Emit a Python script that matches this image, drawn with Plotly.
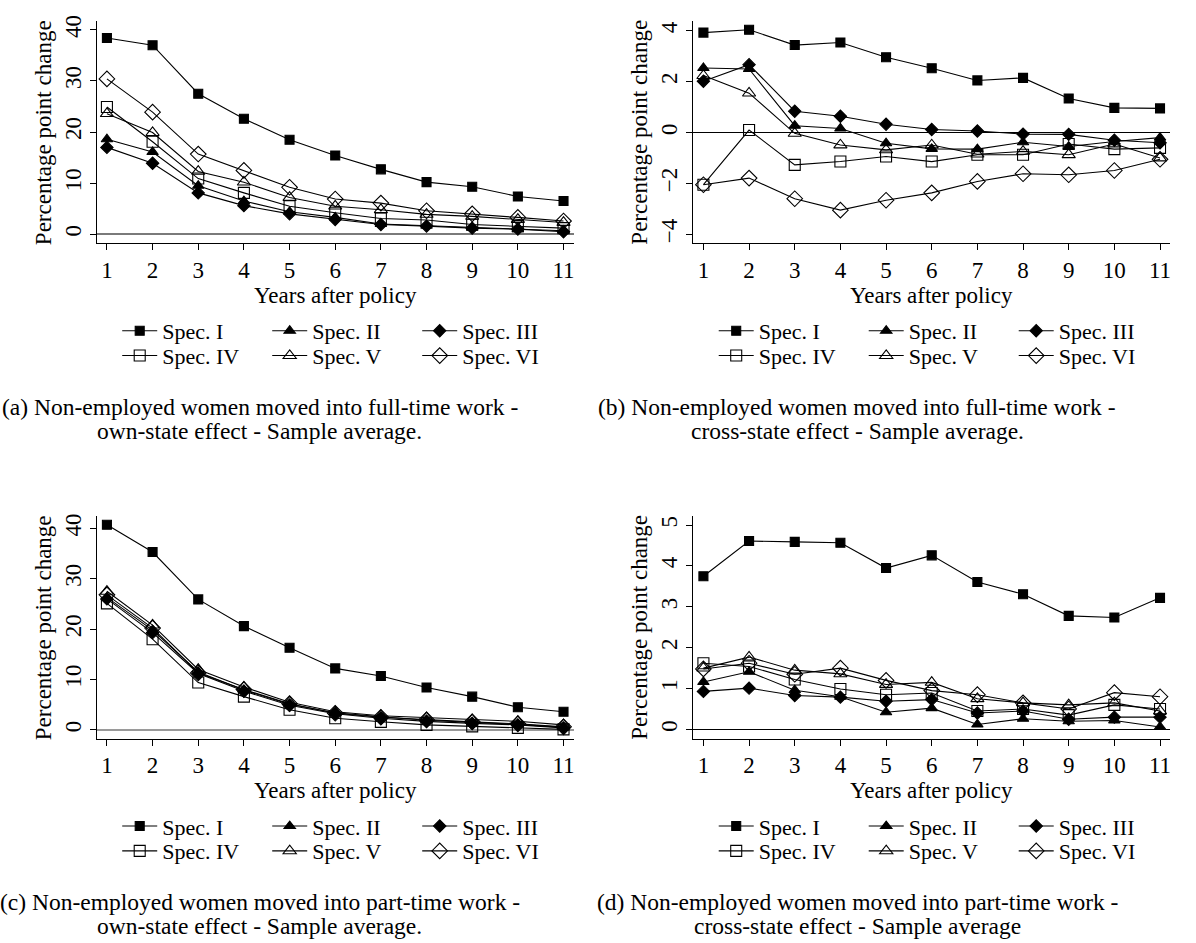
import plotly.graph_objects as go

W, H = 1196, 943

years = list(range(1, 12))
spec_names = ["Spec. I", "Spec. II", "Spec. III", "Spec. IV", "Spec. V", "Spec. VI"]

# Panel (a): full-time, own-state
a_spec1 = [38.4, 37.0, 27.5, 22.6, 18.5, 15.4, 12.7, 10.2, 9.3, 7.4, 6.5]
a_spec2 = [18.6, 16.1, 9.5, 6.5, 4.4, 3.3, 2.0, 1.7, 1.3, 1.0, 0.7]
a_spec3 = [17.0, 13.9, 8.1, 5.6, 4.0, 2.9, 1.9, 1.6, 1.2, 1.0, 0.5]
a_spec4 = [24.9, 18.1, 10.9, 8.1, 5.5, 4.2, 3.1, 2.8, 1.9, 1.6, 1.2]
a_spec5 = [23.6, 19.9, 12.3, 10.2, 7.2, 5.5, 4.8, 3.9, 3.5, 2.9, 2.3]
a_spec6 = [30.4, 23.9, 15.7, 12.5, 9.2, 6.9, 6.1, 4.6, 4.0, 3.3, 2.6]

# Panel (b): full-time, cross-state
b_spec1 = [3.93, 4.04, 3.44, 3.54, 2.96, 2.53, 2.05, 2.15, 1.34, 0.97, 0.95]
b_spec2 = [2.54, 2.50, 0.27, 0.16, -0.42, -0.64, -0.65, -0.38, -0.55, -0.35, -0.20]
b_spec3 = [2.02, 2.67, 0.84, 0.64, 0.33, 0.12, 0.06, -0.06, -0.07, -0.30, -0.40]
b_spec4 = [-2.05, 0.10, -1.27, -1.14, -0.94, -1.14, -0.87, -0.87, -0.45, -0.65, -0.60]
b_spec5 = [2.24, 1.55, -0.03, -0.49, -0.68, -0.49, -0.85, -0.74, -0.87, -0.45, -1.00]
b_spec6 = [-2.05, -1.79, -2.60, -3.05, -2.66, -2.37, -1.92, -1.62, -1.66, -1.49, -1.05]

# Panel (c): part-time, own-state
c_spec1 = [40.7, 35.3, 25.9, 20.6, 16.3, 12.2, 10.7, 8.4, 6.6, 4.5, 3.6]
c_spec2 = [26.3, 19.8, 11.5, 7.9, 5.1, 3.4, 2.6, 1.9, 1.5, 1.1, 0.5]
c_spec3 = [26.0, 19.3, 11.2, 7.7, 4.9, 3.2, 2.3, 1.7, 1.3, 1.0, 0.4]
c_spec4 = [25.1, 18.0, 9.4, 6.6, 4.0, 2.3, 1.6, 1.0, 0.7, 0.4, 0.1]
c_spec5 = [27.5, 20.8, 12.0, 8.5, 5.5, 3.6, 2.8, 2.4, 2.0, 1.7, 1.0]
c_spec6 = [26.8, 20.2, 11.3, 8.0, 5.2, 3.3, 2.5, 2.0, 1.6, 1.2, 0.6]

# Panel (d): part-time, cross-state
d_spec1 = [3.75, 4.61, 4.59, 4.57, 3.95, 4.26, 3.61, 3.31, 2.78, 2.74, 3.22]
d_spec2 = [1.16, 1.41, 0.96, 0.80, 0.42, 0.52, 0.12, 0.26, 0.20, 0.22, 0.06]
d_spec3 = [0.93, 1.01, 0.83, 0.79, 0.69, 0.73, 0.40, 0.45, 0.25, 0.30, 0.30]
d_spec4 = [1.62, 1.54, 1.22, 0.99, 0.85, 0.89, 0.45, 0.50, 0.35, 0.60, 0.50]
d_spec5 = [1.50, 1.77, 1.45, 1.36, 1.10, 1.15, 0.75, 0.65, 0.60, 0.65, 0.45]
d_spec6 = [1.48, 1.62, 1.35, 1.50, 1.20, 0.95, 0.85, 0.65, 0.50, 0.90, 0.80]

x_ticks = list(range(1, 12))
a_yticks = [0, 10, 20, 30, 40]
a_yticktext = ["0", "10", "20", "30", "40"]
b_yticks = [-4, -2, 0, 2, 4]
b_yticktext = ["\u22124", "\u22122", "0", "2", "4"]
c_yticks = [0, 10, 20, 30, 40]
c_yticktext = ["0", "10", "20", "30", "40"]
d_yticks = [0, 1, 2, 3, 4, 5]
d_yticktext = ["0", "1", "2", "3", "4", "5"]

x_title = "Years after policy"
y_title = "Percentage point change"
captions = [
    ("(a) Non-employed women moved into full-time work -", "own-state effect - Sample average."),
    ("(b) Non-employed women moved into full-time work -", "cross-state effect - Sample average."),
    ("(c) Non-employed women moved into part-time work -", "own-state effect - Sample average."),
    ("(d) Non-employed women moved into part-time work -", "cross-state effect - Sample average"),
]

panels = [
    [a_spec1, a_spec2, a_spec3, a_spec4, a_spec5, a_spec6],
    [b_spec1, b_spec2, b_spec3, b_spec4, b_spec5, b_spec6],
    [c_spec1, c_spec2, c_spec3, c_spec4, c_spec5, c_spec6],
    [d_spec1, d_spec2, d_spec3, d_spec4, d_spec5, d_spec6],
]

# styles
symbols = ["square", "triangle-up", "diamond", "square-open", "triangle-up-open", "diamond-open"]
msizes = [9, 10, 9.5, 11, 11.5, 12]
legend_row = [0, 0, 0, 1, 1, 1]
FONT = "Liberation Serif"

def px_x(p):
    return p / W

def px_y(p):
    return 1 - p / H

def legend_name(k):
    return "legend" if k == 0 else "legend%d" % (k + 1)

# geometry (pixels)
x_left = [97, 694, 97, 694]
x_right = [574, 1171, 574, 1171]
y_top = [15, 15, 513, 513]
y_bot = [239, 239, 737.5, 737.5]
y_ranges = [[-1.8, 41.75], [-4.36, 4.39], [-1.77, 42.5], [-0.23, 5.23]]
ytick_sets = [(a_yticks, a_yticktext), (b_yticks, b_yticktext), (c_yticks, c_yticktext), (d_yticks, d_yticktext)]
zero_styles = [("#7a7a7a", 2), ("black", 1), ("#9a9a9a", 1.5), ("black", 1)]
cap_x = [260, 858, 260, 858]

fig = go.Figure()

for p in range(4):
    ax = "" if p == 0 else str(p + 1)
    for s in range(6):
        fig.add_trace(go.Scatter(
            x=years, y=panels[p][s], name=spec_names[s],
            mode="lines+markers",
            line=dict(color="black", width=1.1),
            marker=dict(symbol=symbols[s], size=msizes[s], color="black",
                        line=dict(color="black", width=1.1)),
            xaxis="x" + ax, yaxis="y" + ax,
            legend=legend_name(2 * p + legend_row[s]),
            showlegend=True,
        ))

layout = dict(
    width=W, height=H,
    margin=dict(l=0, r=0, t=0, b=0),
    paper_bgcolor="white", plot_bgcolor="white",
    font=dict(family=FONT, size=23, color="black"),
    annotations=[],
)

for p in range(4):
    ax = "" if p == 0 else str(p + 1)
    zc, zw = zero_styles[p]
    layout["xaxis" + ax] = dict(
        domain=[px_x(x_left[p]), px_x(x_right[p])],
        range=[0.781, 11.219],
        tickvals=x_ticks, ticktext=[str(t) for t in x_ticks],
        ticks="outside", ticklen=6, tickwidth=1, tickcolor="black",
        showline=True, linecolor="black", linewidth=1,
        showgrid=False, zeroline=False,
        anchor="y" + ax,
        tickfont=dict(family=FONT, size=23),
    )
    tv, tt = ytick_sets[p]
    layout["yaxis" + ax] = dict(
        domain=[px_y(y_bot[p]), px_y(y_top[p])],
        range=y_ranges[p],
        tickvals=tv, ticktext=tt, tickangle=-90,
        ticks="outside", ticklen=6, tickwidth=1, tickcolor="black",
        showline=True, linecolor="black", linewidth=1,
        showgrid=False,
        zeroline=True, zerolinecolor=zc, zerolinewidth=zw,
        anchor="x" + ax,
        tickfont=dict(family=FONT, size=23),
    )
    cx = (x_left[p] + x_right[p]) / 2
    cy = (y_top[p] + y_bot[p]) / 2
    # axis titles
    layout["annotations"].append(dict(
        text=x_title, x=px_x(cx), y=px_y(y_bot[p] + 52), xref="paper", yref="paper",
        xanchor="center", yanchor="middle", showarrow=False,
        font=dict(family=FONT, size=23)))
    layout["annotations"].append(dict(
        text=y_title, x=px_x(x_left[p] - 54), y=px_y(cy), xref="paper", yref="paper",
        xanchor="center", yanchor="middle", showarrow=False, textangle=-90,
        font=dict(family=FONT, size=23)))
    # legends: two rows, each a horizontal legend
    for r in range(2):
        layout[legend_name(2 * p + r)] = dict(
            orientation="h", traceorder="normal",
            x=px_x(cx + 7), xanchor="center",
            y=px_y(y_bot[p] + 88 + 25 * r), yanchor="middle",
            font=dict(family=FONT, size=22),
            itemwidth=35, entrywidth=100,
            bgcolor="rgba(0,0,0,0)", borderwidth=0,
            itemclick=False, itemdoubleclick=False,
        )
    # captions
    line1, line2 = captions[p]
    layout["annotations"].append(dict(
        text=line1, x=px_x(cap_x[p]), y=px_y(y_bot[p] + 164.5), xref="paper", yref="paper",
        xanchor="center", yanchor="middle", showarrow=False,
        font=dict(family=FONT, size=23.5)))
    layout["annotations"].append(dict(
        text=line2, x=px_x(cap_x[p]), y=px_y(y_bot[p] + 188.5), xref="paper", yref="paper",
        xanchor="center", yanchor="middle", showarrow=False,
        font=dict(family=FONT, size=23.5)))

fig.update_layout(**layout)
fig.write_html("out.html")
